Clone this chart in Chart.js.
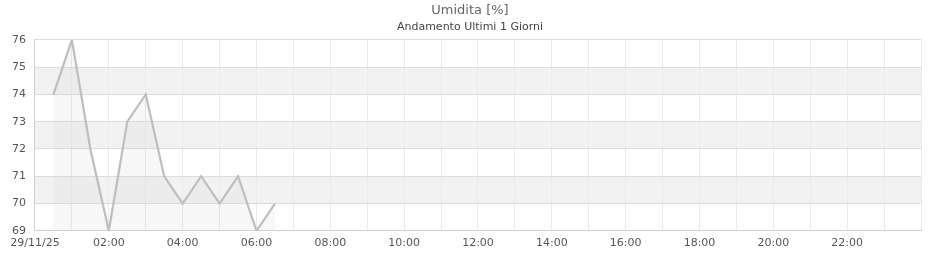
<!DOCTYPE html>
<html>
<head>
<meta charset="utf-8">
<script src="https://cdn.jsdelivr.net/npm/chart.js@4"></script>
<style>
  body { margin: 0; background: #fff; }
  #wrap { width: 940px; height: 260px; }
</style>
</head>
<body>
<div id="wrap"><canvas id="chart" width="940" height="260"></canvas></div>
<script>
// readings, hours from midnight of 29/11/25
const hours = [0.5, 1, 1.5, 2, 2.5, 3, 3.5, 4, 4.5, 5, 5.5, 6, 6.5];
const humidity = [74, 76, 72, 69, 73, 74, 71, 70, 71, 70, 71, 69, 70];
const dayLabel = "29/11/25";
const yMin = 69, yMax = 76;

// alternating grey bands between the y ticks
const bands = {
    id: "bands",
    beforeDraw(chart) {
        const { ctx, chartArea, scales } = chart;
        ctx.save();
        ctx.fillStyle = "#f2f2f2";
        for (let v = yMin + 1; v < yMax; v += 2) {
            const top = scales.y.getPixelForValue(v + 1);
            const bot = scales.y.getPixelForValue(v);
            ctx.fillRect(chartArea.left, top, chartArea.right - chartArea.left, bot - top);
        }
        ctx.restore();
    }
};

const font = { family: "DejaVu Sans", size: 11 };

new Chart(document.getElementById("chart").getContext("2d"), {
    type: "line",
    data: {
        datasets: [{
            data: hours.map((h, i) => ({ x: h, y: humidity[i] })),
            borderColor: "#bebebe",
            borderWidth: 2.2,
            backgroundColor: "rgba(200,200,200,0.15)",
            fill: "start",
            pointRadius: 0,
            tension: 0
        }]
    },
    options: {
        responsive: false,
        animation: false,
        layout: { padding: { left: 3, right: 3, top: 1, bottom: 4 } },
        plugins: {
            legend: { display: false },
            tooltip: { enabled: false },
            title: {
                display: true,
                text: "Umidita [%]",
                color: "#666",
                font: { family: "DejaVu Sans", size: 13, weight: "normal" },
                padding: { top: 2, bottom: 2 }
            },
            subtitle: {
                display: true,
                text: "Andamento Ultimi 1 Giorni",
                color: "#444",
                font: { family: "DejaVu Sans", size: 11 },
                padding: { top: 0, bottom: 6 }
            }
        },
        scales: {
            x: {
                type: "linear",
                min: 0,
                max: 24,
                grid: { color: "#e8e8f6", drawTicks: false },
                border: { color: "#d0d0d0" },
                ticks: {
                    stepSize: 1,
                    autoSkip: false,
                    maxRotation: 0,
                    padding: 6,
                    color: "#555",
                    font: font,
                    callback: v => {
                        if (v === 0) return dayLabel;
                        if (v % 2 !== 0 || v >= 24) return "";
                        return String(v).padStart(2, "0") + ":00";
                    }
                }
            },
            y: {
                min: yMin,
                max: yMax,
                grid: { color: "#dcdcdc", drawTicks: false },
                border: { color: "#d0d0d0" },
                ticks: { stepSize: 1, padding: 9, color: "#555", font: font }
            },
            // empty right axis, only keeps a margin on the right
            yRight: {
                position: "right",
                min: yMin,
                max: yMax,
                grid: { display: false, drawTicks: false },
                border: { display: false },
                ticks: { display: false },
                afterFit: s => { s.width = 16; }
            }
        }
    },
    plugins: [bands]
});
</script>
</body>
</html>
